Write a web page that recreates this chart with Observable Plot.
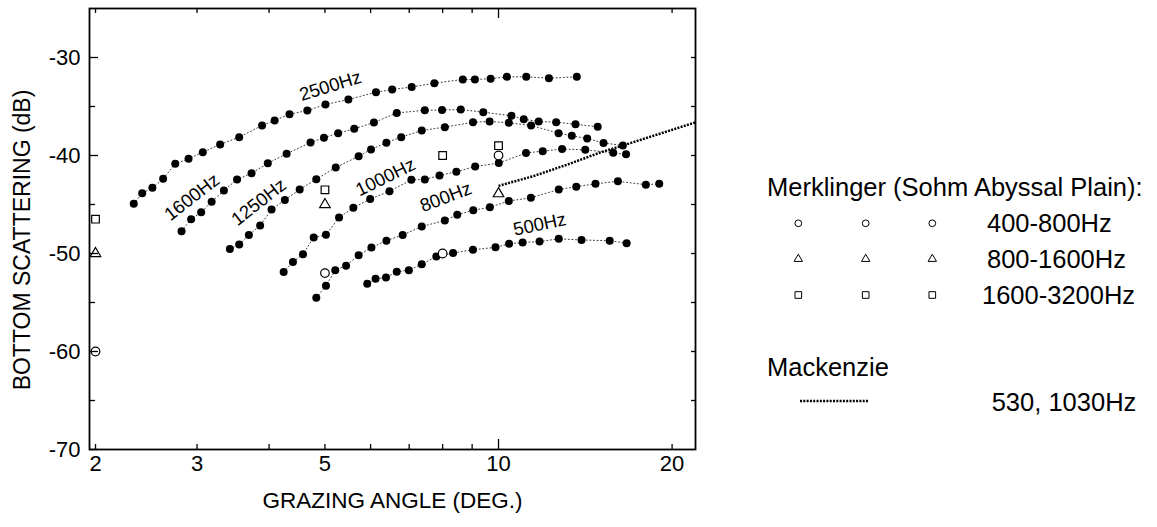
<!DOCTYPE html>
<html><head><meta charset="utf-8">
<script src="https://cdn.jsdelivr.net/npm/d3@7"></script>
<script src="https://cdn.jsdelivr.net/npm/@observablehq/plot@0.6"></script>
<style>
html,body{margin:0;padding:0;background:#fff;}
#wrap{position:relative;width:1157px;height:527px;font-family:"Liberation Sans",Arial,Helvetica,sans-serif;}
#legend{position:absolute;left:0;top:0;pointer-events:none;}
</style></head><body><div id="wrap"></div>
<script>
// ---- data (grazing angle in degrees, bottom scattering in dB) ----
const angle2500 = [2.33,2.41,2.51,2.62,2.75,2.90,3.07,3.29,3.55,3.89,4.09,4.34,4.66,5.01,5.49,6.13,6.54,7.07,7.74,8.67,9.10,9.69,10.34,11.17,12.23,13.67];
const db2500    = [-44.93,-43.85,-43.3,-42.38,-40.85,-40.34,-39.66,-38.88,-38.13,-36.94,-36.43,-35.79,-35.41,-34.8,-34.29,-33.54,-33.27,-33.01,-32.62,-32.24,-32.24,-32.17,-31.97,-31.97,-32.11,-31.97];
const angle1600 = [2.82,2.93,3.05,3.18,3.34,3.52,3.73,3.98,4.29,4.72,4.98,5.27,5.62,6.08,6.66,7.45,7.98,8.60,9.41,10.53,11.06,11.74,12.59,13.60,14.86];
const db1600    = [-47.72,-46.5,-45.79,-44.72,-43.57,-42.45,-41.81,-40.79,-39.83,-38.67,-38.19,-37.72,-37.28,-36.63,-35.66,-35.38,-35.36,-35.31,-35.58,-35.94,-36.3,-36.53,-36.6,-36.81,-37.07];
const angle1250 = [3.42,3.55,3.69,3.86,4.04,4.26,4.52,4.83,5.22,5.72,6.01,6.39,6.78,7.36,8.07,9.03,9.65,10.42,11.39,12.71,13.40,14.25,15.21,16.43];
const db1250    = [-49.54,-49.08,-48.11,-47.14,-45.51,-44.54,-43.47,-42.42,-41.22,-40.08,-39.39,-38.69,-38.13,-37.45,-37.11,-36.6,-36.53,-36.66,-36.94,-37.72,-37.99,-38.27,-38.72,-38.98];
const angle1000 = [4.24,4.40,4.58,4.78,5.02,5.29,5.60,5.99,6.47,7.06,7.45,7.90,8.45,9.11,10.01,11.16,11.93,12.89,14.14,15.81,16.64];
const db1000    = [-51.89,-50.87,-50.07,-48.37,-48.09,-46.33,-45.34,-44.44,-43.65,-42.48,-42.45,-42.04,-41.66,-41.12,-40.77,-39.74,-39.56,-39.34,-39.42,-39.72,-39.88];
const angle800  = [4.83,5.02,5.21,5.44,5.72,6.02,6.39,6.82,7.36,8.07,8.48,9.04,9.66,10.42,11.38,12.72,13.64,14.73,16.11,18.01,19.00];
const db800     = [-54.52,-53.29,-51.7,-51.24,-50.18,-49.39,-48.69,-48.11,-47.24,-46.63,-46.05,-45.58,-45.28,-44.64,-44.32,-43.47,-43.18,-42.89,-42.63,-42.98,-42.89];
const angle500  = [5.92,6.12,6.38,6.66,6.99,7.36,7.80,8.34,9.03,9.88,10.43,11.01,11.78,12.72,13.93,15.59,16.68];
const db500     = [-53.09,-52.57,-52.45,-51.87,-51.7,-51.1,-50.31,-49.95,-49.62,-49.37,-49.01,-48.88,-48.78,-48.5,-48.62,-48.7,-48.95];

const seriesNames = ["2500Hz","1600Hz","1250Hz","1000Hz","800Hz","500Hz"];
const labelAngle  = [5.11, 2.94, 3.84, 6.37, 8.10, 11.79];
const labelDb     = [-32.91, -44.26, -44.76, -42.21, -44.26, -47.04];
const labelTilt   = [-17, -38, -38, -26, -21, -12];

// Merklinger (Sohm Abyssal Plain)
const merkCircleAngle = [2, 5, 8, 10];
const merkCircleDb    = [-60, -52, -50, -40];
const merkTriAngle    = [2, 5, 10];
const merkTriDb       = [-50, -45, -43.9];
const merkSqAngle     = [2, 5, 8, 10];
const merkSqDb        = [-46.5, -43.5, -40, -39];

// Mackenzie 530, 1030Hz
const mackAngle = [10, 11.5, 13.2, 15, 16.4, 19, 22];
const mackDb    = [-43.1, -42.1, -40.9, -39.7, -39.0, -37.8, -36.6];

// axis ticks
const xTickLabels = [2, 3, 5, 10, 20];
const xMinorTicks = [2, 3, 4, 5, 6, 7, 8, 9, 20];
const xMajorTicks = [10];
const yTickLabels = [-70, -60, -50, -40, -30];
const yMinorTicks = [-65, -55, -45, -35];
const yAllTicks   = [-65, -60, -55, -50, -45, -40, -35, -30];

// legend
const legendTitle = "Merklinger (Sohm Abyssal Plain):";
const legendRanges = ["400-800Hz", "800-1600Hz", "1600-3200Hz"];
const mackTitle = "Mackenzie";
const mackLabel = "530, 1030Hz";

// ---- build tables ----
const allAngles = [angle2500, angle1600, angle1250, angle1000, angle800, angle500];
const allDb = [db2500, db1600, db1250, db1000, db800, db500];
const pts = [];
seriesNames.forEach((name, i) => allAngles[i].forEach((a, j) => pts.push({series: name, angle: a, db: allDb[i][j]})));
const labels = seriesNames.map((name, i) => ({name, angle: labelAngle[i], db: labelDb[i], tilt: labelTilt[i]}));
const zip = (xs, ys) => xs.map((x, i) => ({angle: x, db: ys[i]}));
const circles = zip(merkCircleAngle, merkCircleDb);
const tris = zip(merkTriAngle, merkTriDb);
const squares = zip(merkSqAngle, merkSqDb);
const mack = zip(mackAngle, mackDb);

const W = 1157, H = 527, mL = 89, mR = 462, mT = 8, mB = 78;
const fw = W - mL - mR, fh = H - mT - mB;
const FONT = "Liberation Sans, Arial, Helvetica, sans-serif";

const chart = Plot.plot({
  width: W, height: H,
  marginLeft: mL, marginRight: mR, marginTop: mT, marginBottom: mB,
  style: {fontFamily: FONT, fontSize: "22px", color: "black", background: "white", overflow: "visible"},
  x: {type: "log", domain: [1.9526, 21.96], axis: null},
  y: {domain: [-70, -25], axis: null},
  marks: [
    Plot.line(pts, {x: "angle", y: "db", z: "series", stroke: "#222", strokeWidth: 0.9, strokeDasharray: "1,2.6"}),
    Plot.line(mack, {x: "angle", y: "db", stroke: "black", strokeWidth: 2.5, strokeDasharray: "2,1.3", strokeLinecap: "butt"}),
    Plot.dot(pts, {x: "angle", y: "db", r: 4, fill: "black"}),
    Plot.dot(circles, {x: "angle", y: "db", r: 4.3, symbol: "circle", stroke: "black", fill: "white", strokeWidth: 1.2}),
    Plot.dot(tris, {x: "angle", y: "db", r: 3.9, symbol: "triangle", stroke: "black", fill: "white", strokeWidth: 1.2}),
    Plot.dot(squares, {x: "angle", y: "db", r: 4.3, symbol: "square", stroke: "black", fill: "white", strokeWidth: 1.2}),
    Plot.text(labels, {x: "angle", y: "db", text: "name", rotate: "tilt", fontSize: 18.5}),
    // inward ticks
    Plot.tickX(xMinorTicks, {x: d => d, insetTop: fh - 5, stroke: "black", strokeWidth: 1.3}),
    Plot.tickX(xMinorTicks, {x: d => d, insetBottom: fh - 5, stroke: "black", strokeWidth: 1.3}),
    Plot.tickX(xMajorTicks, {x: d => d, insetTop: fh - 10, stroke: "black", strokeWidth: 1.3}),
    Plot.tickX(xMajorTicks, {x: d => d, insetBottom: fh - 10, stroke: "black", strokeWidth: 1.3}),
    Plot.tickY(yTickLabels, {y: d => d, insetRight: fw - 9, stroke: "black", strokeWidth: 1.3}),
    Plot.tickY(yMinorTicks, {y: d => d, insetRight: fw - 6, stroke: "black", strokeWidth: 1.3}),
    Plot.tickY(yAllTicks, {y: d => d, insetLeft: fw - 4, stroke: "black", strokeWidth: 1.3}),
    Plot.frame({stroke: "black", strokeWidth: 1.8}),
    // tick labels
    Plot.text(xTickLabels, {x: d => d, frameAnchor: "bottom", dy: 21, text: d => String(d), fontSize: 22}),
    Plot.text(yTickLabels, {y: d => d, frameAnchor: "left", dx: -9, textAnchor: "end", text: d => String(d), fontSize: 22}),
    // axis titles
    Plot.text(["GRAZING ANGLE (DEG.)"], {frameAnchor: "bottom", dy: 58, text: d => d, fontSize: 22.5}),
    Plot.text(["BOTTOM SCATTERING (dB)"], {frameAnchor: "left", dx: -66.5, dy: 11, rotate: -90, textAnchor: "middle", text: d => d, fontSize: 23})
  ]
});
const wrap = document.getElementById("wrap");
wrap.appendChild(chart);

// ---- legend overlay ----
const lg = d3.select(wrap).append("svg").attr("id", "legend")
  .attr("width", W).attr("height", H)
  .style("font-family", FONT);
const LF = 25.5;
lg.append("text").attr("x", 767).attr("y", 187).attr("dy", "0.35em").attr("font-size", LF).text(legendTitle);
const cols = [798.3, 865.7, 932.3];
const rowY = [223.3, 259, 295];
const syms = [d3.symbolCircle, d3.symbolTriangle, d3.symbolSquare];
const symSize = [36, 30, 44];
const labelX = [987, 987, 982];
legendRanges.forEach((lab, i) => {
  cols.forEach(cx => {
    lg.append("path").attr("d", d3.symbol(syms[i], symSize[i])())
      .attr("transform", `translate(${cx},${rowY[i]})`)
      .attr("fill", "white").attr("stroke", "black").attr("stroke-width", 1);
  });
  lg.append("text").attr("x", labelX[i]).attr("y", rowY[i]).attr("dy", "0.35em").attr("font-size", LF).text(lab);
});
lg.append("text").attr("x", 767).attr("y", 367).attr("dy", "0.35em").attr("font-size", LF).text(mackTitle);
lg.append("line").attr("x1", 800).attr("x2", 868).attr("y1", 401).attr("y2", 401)
  .attr("stroke", "black").attr("stroke-width", 2.5).attr("stroke-dasharray", "2,1.3");
lg.append("text").attr("x", 991.7).attr("y", 402).attr("dy", "0.35em").attr("font-size", LF).text(mackLabel);
</script></body></html>
